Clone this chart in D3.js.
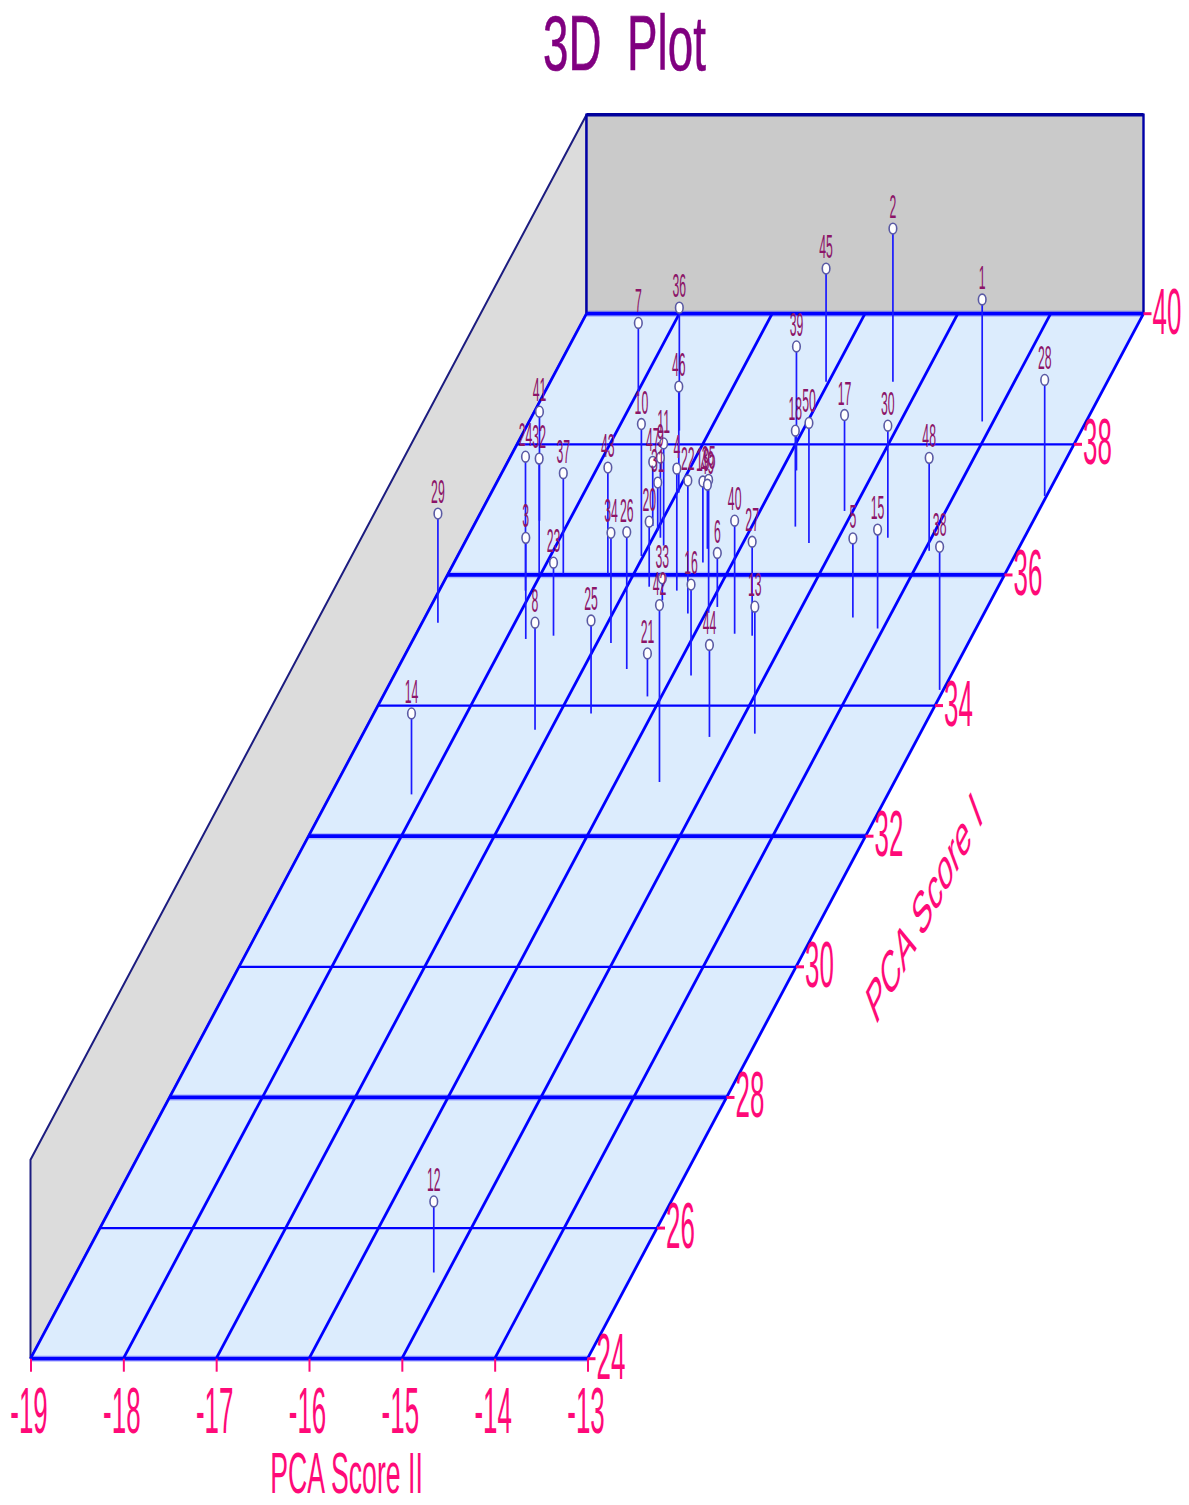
<!DOCTYPE html>
<html>
<head>
<meta charset="utf-8">
<script src="https://cdn.jsdelivr.net/npm/d3@7"></script>
<style>
  body { margin: 0; background: #fff; }
  svg { display: block; }
  text { font-family: "Liberation Sans", Arial, sans-serif; }
</style>
</head>
<body>
<svg id="chart" width="1189" height="1505"></svg>
<script>
// Values, point number is index + 1
const pointIds = d3.range(1, 51);
const pcaII = [
  -14.12, -15.31, -17.79, -16.44, -14.39, -15.91, -17.97, -17.17, -16.92, -17.02,
  -16.84, -15.15, -14.78, -18.13, -14.06, -15.80, -15.09, -15.53, -16.32, -16.76,
  -16.15, -16.19, -17.51, -18.07, -16.66, -16.53, -15.37, -13.02, -18.83, -14.47,
  -16.99, -18.02, -16.54, -16.85, -15.97, -17.33, -17.76, -13.04, -15.84, -15.57,
  -18.32, -15.53, -17.28, -15.25, -16.03, -16.98, -17.07, -13.95, -16.35, -15.29
];
const pcaI = [
  38.35, 38.96, 35.02, 35.76, 35.35, 35.51, 38.74, 33.63, 36.57, 36.29,
  36.45, 25.32, 33.57, 32.64, 35.18, 34.46, 36.98, 36.74, 36.19, 35.82,
  34.14, 35.41, 35.07, 35.76, 33.88, 34.56, 35.07, 37.21, 35.27, 36.57,
  36.68, 36.02, 35.61, 34.96, 35.42, 38.21, 36.02, 34.24, 37.60, 35.10,
  36.83, 32.83, 36.02, 33.52, 38.96, 37.26, 36.75, 36.37, 36.40, 36.49
];
const heightZ = [
  61.3, 76.9, 50.8, 61.3, 39.7, 27.1, 36.7, 53.8, 40.2, 66.3,
  51.3, 35.7, 63.8, 40.7, 49.7, 45.7, 48.2, 48.2, 40.7, 32.7,
  21.6, 66.8, 36.7, 67.3, 46.7, 68.8, 47.2, 58.3, 54.8, 56.3,
  24.1, 57.8, 11.1, 55.3, 66.8, 61.8, 50.5, 71.9, 62.3, 56.8,
  54.8, 88.9, 53.3, 46.2, 56.8, 53.3, 32.2, 46.7, 32.2, 60.3
];
const xTicks = [-19, -18, -17, -16, -15, -14, -13];
const yTicks = [24, 26, 28, 30, 32, 34, 36, 38, 40];
const heavyYTicks = [24, 28, 32, 36, 40];

const svg = d3.select('#chart');
const pink = '#ff0a78';
const blue = '#0000ff';

// oblique projection: X runs along the front edge, Y shears up and to the right
const xScale = d3.scaleLinear().domain([-19, -13]).range([30.5, 587.5]);
const yRise = d3.scaleLinear().domain([24, 40]).range([1358.7, 313.7]);
const yShear = d3.scaleLinear().domain([24, 40]).range([0, 556]);
const zScale = d3.scaleLinear().domain([0, 100]).range([0, 199]);

const px = (x, y) => xScale(x) + yShear(y);
const py = (y) => yRise(y);
const wallTop = zScale(100);

// squeezed text, the source picture is narrower than it is tall
function squeezed(sel, sx, rotate = 0) {
  return sel.attr('transform', function () {
    const x = +this.getAttribute('data-x');
    const y = +this.getAttribute('data-y');
    return `translate(${x},${y}) scale(${sx},1)` + (rotate ? ` rotate(${rotate})` : '');
  });
}

// walls and floor
const poly = (pts) => pts.map((p) => p.join(',')).join(' ');
svg.append('polygon')
  .attr('points', poly([[px(-19, 24), py(24)], [px(-19, 24), py(24) - wallTop], [px(-19, 40), py(40) - wallTop], [px(-19, 40), py(40)]]))
  .attr('fill', '#dcdcdc').attr('stroke', '#1c1c80').attr('stroke-width', 2);
svg.append('polygon')
  .attr('points', poly([[px(-19, 40), py(40)], [px(-19, 40), py(40) - wallTop], [px(-13, 40), py(40) - wallTop], [px(-13, 40), py(40)]]))
  .attr('fill', '#cacaca').attr('stroke', '#0000a8').attr('stroke-width', 2.4);
svg.append('line')
  .attr('x1', px(-19, 40)).attr('x2', px(-13, 40))
  .attr('y1', py(40) - wallTop).attr('y2', py(40) - wallTop)
  .attr('stroke', '#00009c').attr('stroke-width', 3.5);
svg.append('polygon')
  .attr('points', poly([[px(-19, 24), py(24)], [px(-13, 24), py(24)], [px(-13, 40), py(40)], [px(-19, 40), py(40)]]))
  .attr('fill', '#dcecfd');

// floor grid
svg.append('g').selectAll('line').data(xTicks).join('line')
  .attr('x1', (d) => px(d, 24)).attr('y1', py(24))
  .attr('x2', (d) => px(d, 40)).attr('y2', py(40))
  .attr('stroke', blue).attr('stroke-width', 2.8);
// faint band around the heavy lines
svg.append('g').selectAll('line').data(heavyYTicks).join('line')
  .attr('x1', (d) => px(-19, d)).attr('y1', (d) => py(d))
  .attr('x2', (d) => px(-13, d)).attr('y2', (d) => py(d))
  .attr('stroke', blue).attr('stroke-opacity', 0.2).attr('stroke-width', 6.5);
svg.append('g').selectAll('line').data(yTicks).join('line')
  .attr('x1', (d) => px(-19, d)).attr('y1', (d) => py(d))
  .attr('x2', (d) => px(-13, d)).attr('y2', (d) => py(d))
  .attr('stroke', blue)
  .attr('stroke-width', (d) => (heavyYTicks.includes(d) ? 3.8 : 2.2));

// x axis
const xAxis = svg.append('g')
  .attr('transform', `translate(0,${py(24)})`)
  .call(d3.axisBottom(xScale).tickValues(xTicks).tickSize(13).tickSizeOuter(0).tickFormat((d) => String(d)));
xAxis.select('.domain').remove();
xAxis.selectAll('.tick line').attr('stroke', pink).attr('stroke-width', 2);
xAxis.selectAll('.tick text')
  .attr('y', 0).attr('dy', null)
  .attr('data-x', -2).attr('data-y', 74.5)
  .attr('fill', pink).attr('font-size', 64)
  .attr('text-anchor', 'middle')
  .call(squeezed, 0.405);

// y axis ticks sit on the right edge of the floor
const yAxis = svg.append('g').selectAll('g').data(yTicks).join('g');
yAxis.append('line')
  .attr('x1', (d) => px(-13, d)).attr('y1', (d) => py(d))
  .attr('x2', (d) => px(-13, d) + 8).attr('y2', (d) => py(d))
  .attr('stroke', pink).attr('stroke-width', 3);
yAxis.append('text')
  .text((d) => d)
  .attr('data-x', (d) => px(-13, d) + 9).attr('data-y', (d) => py(d) + 20)
  .attr('fill', pink).attr('font-size', 64)
  .call(squeezed, 0.405);

// points
const points = pointIds.map((id, i) => ({ id, x: pcaII[i], y: pcaI[i], z: heightZ[i] }));
svg.append('g').selectAll('line').data(points).join('line')
  .attr('x1', (d) => px(d.x, d.y)).attr('x2', (d) => px(d.x, d.y))
  .attr('y1', (d) => py(d.y)).attr('y2', (d) => py(d.y) - zScale(d.z))
  .attr('stroke', '#1a1aff').attr('stroke-width', 1.7);
svg.append('g').selectAll('ellipse').data(points).join('ellipse')
  .attr('cx', (d) => px(d.x, d.y)).attr('cy', (d) => py(d.y) - zScale(d.z))
  .attr('rx', 3.8).attr('ry', 5.4)
  .attr('fill', '#fff').attr('stroke', '#5a5aa4').attr('stroke-width', 1.6);
svg.append('g').selectAll('text').data(points).join('text')
  .text((d) => d.id)
  .attr('data-x', (d) => px(d.x, d.y)).attr('data-y', (d) => py(d.y) - zScale(d.z) - 10.5)
  .attr('text-anchor', 'middle')
  .attr('fill', '#8c1468').attr('font-size', 34)
  .call(squeezed, 0.36);

// titles
svg.append('text').text('3D  Plot')
  .attr('xml:space', 'preserve').style('white-space', 'pre')
  .attr('data-x', 624.5).attr('data-y', 70)
  .attr('text-anchor', 'middle')
  .attr('fill', '#800080').attr('stroke', '#800080').attr('stroke-width', 0.6)
  .attr('font-size', 77)
  .call(squeezed, 0.595);
svg.append('text').text('PCA Score II')
  .attr('data-x', 346.5).attr('data-y', 1492.5)
  .attr('text-anchor', 'middle')
  .attr('fill', pink).attr('font-size', 58)
  .call(squeezed, 0.46);
svg.append('text').text('PCA Score I')
  .attr('data-x', 930).attr('data-y', 923)
  .attr('text-anchor', 'middle')
  .attr('fill', pink).attr('font-size', 59)
  .call(squeezed, 0.44, -40);
</script>
</body>
</html>
